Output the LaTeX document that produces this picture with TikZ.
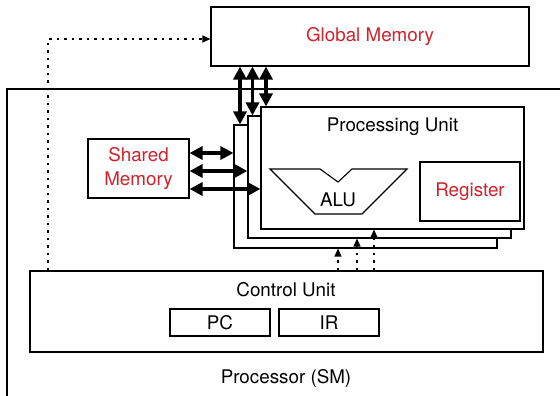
\documentclass[tikz,border=0pt]{standalone}
\usepackage{fontspec}
\setmainfont{TeX Gyre Heros}
\usetikzlibrary{arrows.meta,calc}
\definecolor{memred}{RGB}{205,35,45}
\begin{document}
\begin{tikzpicture}[x=1pt,y=-1pt,
  font=\fontsize{18.8}{22}\selectfont,
  box/.style={draw, line width=1.1pt, fill=white, inner sep=0pt},
  redtxt/.style={text=memred},
  bus/.style={line width=3.4pt, {Triangle[length=13pt,width=13pt]}-{Triangle[length=13pt,width=13pt]}},
  ctrl/.style={line width=1.2pt, dash pattern=on 2.5pt off 5pt, -{Triangle[length=8pt,width=7pt]}}]
\useasboundingbox (0,0) rectangle (560,396);

% Processor (SM) frame, open to the right and bottom
\coordinate (sm) at (7,89);
\draw[line width=1.1pt] (561,89) -| (7,397);
\node (smlabel) at (286,378) {Processor (SM)};

% Global memory
\node[box, minimum width=318pt, minimum height=59pt] (gm) at (370,36.5) {};
\node[redtxt] at (gm.center) {Global Memory};

% Stack of processing units
\node[box, minimum width=263pt, minimum height=123pt] (back) at (365.5,186.5) {};
\node[box, minimum width=263pt, minimum height=122pt] (mid) at (379.5,177) {};
\node[box, minimum width=263pt, minimum height=122pt] (front) at (392.5,168) {};
\node (pulabel) at (392.5,127) {Processing Unit};

% ALU
\draw[line width=1.1pt] (270,169) -- (320,169) -- (338,182) -- (352,169) -- (407,169)
  -- (362,214) -- (315,214) -- cycle;
\node (alu) at (338,200) {ALU};

% Register file
\node[box, redtxt, minimum width=100pt, minimum height=59pt] (reg) at (470,191.5) {Register};

% Shared memory
\node[box, redtxt, minimum width=101pt, minimum height=59pt, align=center,
  font=\fontsize{18.8}{24}\selectfont] (shm) at (138.5,168.5) {Shared\\Memory};

% Control unit
\node[box, minimum width=513pt, minimum height=81pt] (cu) at (286.5,311.5) {};
\node (culabel) at (286,289.5) {Control Unit};
\node[box, minimum width=100pt, minimum height=27pt] (pc) at (220,322.5) {PC};
\node[box, minimum width=100pt, minimum height=27pt] (ir) at (329,322.5) {IR};

% Global memory <-> processing units
\coordinate (g1) at (240,0);
\coordinate (g2) at (252.5,0);
\coordinate (g3) at (266,0);
\draw[bus] (gm.south -| g1) -- (back.north -| g1);
\draw[bus] (gm.south -| g2) -- (mid.north -| g2);
\draw[bus] (gm.south -| g3) -- (front.north -| g3);

% Shared memory <-> processing units
\coordinate (s1) at (0,153);
\coordinate (s2) at (0,171);
\coordinate (s3) at (0,189);
\draw[bus] (shm.east |- s1) -- (back.west |- s1);
\draw[bus] (shm.east |- s2) -- (mid.west |- s2);
\draw[bus] (shm.east |- s3) -- (front.west |- s3);

% Control signals
\coordinate (c1) at (338,0);
\coordinate (c2) at (357,0);
\coordinate (c3) at (374,0);
\draw[ctrl] (cu.north -| c1) -- (back.south -| c1);
\draw[ctrl] (cu.north -| c2) -- (mid.south -| c2);
\draw[ctrl] (cu.north -| c3) -- (front.south -| c3);
\coordinate (cl) at (48,0);
\draw[ctrl] (cu.north -| cl) |- ($(gm.west)+(0,2.5)$);
\end{tikzpicture}
\end{document}
